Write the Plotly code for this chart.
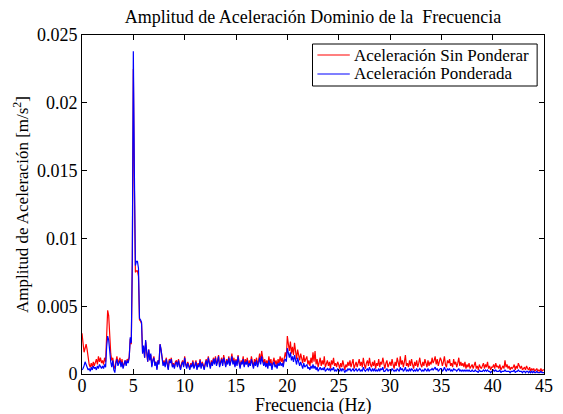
import numpy as np
import plotly.graph_objects as go

# Spectrum sampled every 0.1 Hz from 0 to 45 Hz; amplitudes in units of 1e-3 m/s^2.
# Each row holds one hertz (x.0 ... x.9).
freq_step_hz = 0.1

amp_sin_ponderar = [
    3.0, 2.4, 1.6, 1.9, 2.2, 1.8, 1.2, 0.7, 0.5, 0.8,
    0.5, 0.9, 0.6, 0.8, 1.1, 0.7, 1.3, 0.9, 1.2, 0.8,
    1.0, 0.7, 1.2, 0.9, 3.0, 4.7, 4.3, 2.6, 1.5, 1.0,
    1.2, 0.6, 0.4, 0.9, 1.3, 0.8, 1.0, 1.2, 0.7, 1.1,
    0.5, 0.8, 1.0, 0.7, 1.1, 0.9, 1.3, 2.6, 2.2, 8.0,
    22.5, 14.0, 7.5, 7.6, 7.6, 7.2, 4.0, 3.9, 3.7, 1.6,
    2.0, 1.2, 2.4, 1.6, 0.9, 1.8, 1.1, 1.4, 0.6, 1.0,
    1.3, 0.7, 0.9, 0.4, 1.0, 0.8, 2.2, 1.8, 1.2, 0.7,
    1.0, 0.6, 1.2, 0.8, 0.4, 1.1, 0.9, 1.2, 0.6, 0.8,
    0.5, 0.9, 1.0, 0.6, 1.1, 0.7, 0.4, 0.8, 1.0, 0.6,
    1.3, 0.8, 0.5, 0.9, 0.6, 0.4, 0.8, 0.6, 1.0, 0.5,
    0.7, 1.0, 0.4, 0.8, 0.6, 1.1, 0.5, 0.9, 0.7, 0.4,
    0.8, 1.1, 0.6, 1.3, 0.9, 0.5, 1.0, 0.7, 1.2, 0.8,
    1.3, 0.7, 1.0, 1.4, 0.6, 0.9, 1.2, 0.7, 1.4, 1.0,
    0.6, 1.1, 0.8, 1.3, 0.7, 1.0, 1.5, 0.8, 1.2, 0.6,
    1.1, 0.7, 1.4, 0.9, 0.5, 1.0, 0.8, 1.3, 0.6, 1.1,
    0.8, 1.2, 0.6, 1.0, 0.7, 1.3, 0.9, 0.5, 1.1, 0.8,
    1.2, 0.7, 1.0, 1.5, 0.9, 1.7, 1.2, 0.8, 1.1, 0.7,
    1.0, 0.6, 1.3, 0.8, 1.1, 0.5, 0.9, 1.2, 0.7, 1.0,
    0.6, 1.1, 0.8, 1.3, 0.9, 1.2, 0.7, 1.4, 1.6, 1.2,
    2.8, 2.2, 1.7, 2.4, 1.5, 2.0, 1.4, 2.3, 1.6, 1.1,
    1.8, 1.3, 1.0, 1.5, 1.2, 0.8, 1.4, 0.9, 1.1, 1.3,
    0.7, 1.0, 0.6, 1.2, 0.8, 1.6, 0.9, 1.7, 0.7, 1.1,
    0.5, 0.9, 1.2, 0.6, 1.0, 0.7, 1.3, 0.5, 0.8, 1.0,
    0.6, 0.9, 0.4, 1.0, 0.7, 1.2, 0.6, 0.8, 0.5, 0.9,
    0.7, 0.4, 0.8, 0.5, 1.0, 0.6, 0.3, 0.7, 0.5, 0.9,
    0.6, 1.0, 0.5, 0.8, 1.1, 0.4, 0.7, 0.9, 0.5, 0.8,
    1.1, 0.6, 0.9, 0.5, 1.2, 0.7, 0.4, 0.8, 1.0, 0.6,
    1.2, 0.7, 0.5, 0.9, 0.6, 1.0, 0.4, 0.8, 0.6, 1.1,
    0.5, 0.9, 0.7, 1.2, 0.6, 0.4, 0.8, 1.0, 0.5, 0.7,
    0.9, 0.6, 1.1, 0.7, 0.4, 0.9, 0.6, 1.2, 0.8, 0.5,
    1.3, 0.7, 1.0, 0.5, 0.9, 1.4, 0.6, 0.8, 0.5, 1.0,
    0.6, 1.1, 0.7, 0.4, 0.9, 0.6, 1.0, 0.5, 0.8, 1.2,
    0.7, 0.5, 0.9, 0.6, 1.1, 0.8, 0.5, 1.0, 0.6, 0.9,
    0.7, 1.2, 0.8, 1.0, 1.3, 0.7, 1.1, 0.6, 0.9, 1.2,
    1.0, 0.6, 0.9, 1.3, 0.7, 0.5, 1.0, 0.8, 1.1, 0.6,
    0.8, 0.5, 1.1, 0.7, 0.9, 0.5, 0.8, 1.2, 0.6, 0.9,
    0.6, 0.8, 0.5, 0.9, 0.4, 0.7, 0.5, 0.8, 0.4, 0.6,
    0.7, 0.4, 0.6, 0.9, 0.4, 0.6, 0.3, 0.7, 0.5, 0.4,
    0.6, 0.8, 0.4, 0.7, 0.5, 0.9, 0.4, 0.6, 0.3, 0.5,
    0.5, 0.7, 0.4, 0.8, 0.5, 0.6, 0.4, 0.7, 0.3, 0.5,
    0.6, 0.4, 1.0, 0.5, 0.7, 0.4, 0.6, 0.3, 0.5, 0.4,
    0.5, 0.7, 0.3, 0.6, 0.4, 0.8, 0.5, 0.4, 0.6, 0.3,
    0.4, 0.5, 0.3, 0.6, 0.4, 0.3, 0.5, 0.2, 0.4, 0.3,
    0.4, 0.2, 0.3, 0.4, 0.2, 0.3, 0.2, 0.4, 0.2, 0.3,
    0.3,
]

amp_ponderada = [
    0.3, 0.4, 0.6, 0.9, 0.7, 0.5, 0.3, 0.4, 0.2, 0.5,
    0.3, 0.6, 0.4, 0.5, 0.3, 0.6, 0.4, 0.7, 0.5, 0.4,
    0.6, 0.4, 0.7, 0.5, 2.0, 2.8, 2.5, 1.4, 0.9, 0.5,
    1.0, 0.3, 0.1, 0.8, 1.1, 0.6, 0.9, 1.0, 0.5, 0.9,
    0.4, 0.7, 1.0, 0.6, 1.0, 0.8, 1.2, 2.7, 2.3, 8.5,
    23.8, 15.0, 8.0, 8.3, 8.3, 7.8, 4.1, 4.0, 3.8, 1.5,
    2.1, 1.2, 2.5, 1.7, 0.9, 1.8, 1.0, 1.5, 0.5, 1.0,
    1.2, 0.6, 0.9, 0.3, 1.0, 0.7, 2.2, 1.8, 1.1, 0.6,
    0.9, 0.5, 1.1, 0.7, 0.3, 1.0, 0.8, 1.1, 0.5, 0.7,
    0.4, 0.8, 0.9, 0.5, 1.0, 0.6, 0.3, 0.7, 0.9, 0.5,
    1.2, 0.7, 0.4, 0.8, 0.5, 0.3, 0.7, 0.5, 0.9, 0.4,
    0.6, 0.9, 0.3, 0.7, 0.5, 1.0, 0.4, 0.8, 0.6, 0.3,
    0.7, 1.0, 0.5, 1.2, 0.8, 0.4, 0.9, 0.6, 1.1, 0.7,
    1.2, 0.6, 0.9, 1.3, 0.5, 0.8, 1.1, 0.6, 1.2, 0.9,
    0.5, 1.0, 0.7, 1.2, 0.6, 0.9, 1.3, 0.7, 1.0, 0.5,
    1.0, 0.6, 1.3, 0.8, 0.4, 0.9, 0.7, 1.1, 0.5, 0.9,
    0.7, 1.0, 0.5, 0.8, 0.6, 1.1, 0.7, 0.4, 0.9, 0.6,
    1.0, 0.5, 0.8, 1.2, 0.7, 1.3, 0.9, 0.6, 0.9, 0.5,
    0.8, 0.4, 1.0, 0.6, 0.8, 0.3, 0.7, 0.9, 0.5, 0.7,
    0.4, 0.8, 0.6, 0.9, 0.6, 0.8, 0.5, 1.0, 1.1, 0.9,
    1.9, 1.5, 1.2, 1.6, 1.0, 1.3, 0.9, 1.4, 1.0, 0.7,
    1.2, 0.8, 0.6, 0.9, 0.7, 0.4, 0.8, 0.5, 0.6, 0.7,
    0.4, 0.5, 0.3, 0.6, 0.4, 0.7, 0.4, 0.6, 0.3, 0.5,
    0.2, 0.4, 0.5, 0.3, 0.4, 0.3, 0.5, 0.2, 0.3, 0.4,
    0.3, 0.4, 0.2, 0.4, 0.3, 0.5, 0.2, 0.3, 0.2, 0.4,
    0.3, 0.2, 0.4, 0.2, 0.4, 0.3, 0.1, 0.3, 0.2, 0.4,
    0.3, 0.4, 0.2, 0.3, 0.4, 0.2, 0.3, 0.4, 0.2, 0.3,
    0.4, 0.2, 0.3, 0.2, 0.5, 0.3, 0.2, 0.3, 0.4, 0.2,
    0.5, 0.3, 0.2, 0.4, 0.2, 0.4, 0.2, 0.3, 0.2, 0.4,
    0.2, 0.4, 0.3, 0.5, 0.2, 0.2, 0.3, 0.4, 0.2, 0.3,
    0.3, 0.2, 0.4, 0.3, 0.2, 0.3, 0.2, 0.4, 0.3, 0.2,
    0.5, 0.3, 0.4, 0.2, 0.3, 0.5, 0.2, 0.3, 0.2, 0.4,
    0.2, 0.4, 0.3, 0.2, 0.3, 0.2, 0.4, 0.2, 0.3, 0.4,
    0.3, 0.2, 0.3, 0.2, 0.4, 0.3, 0.2, 0.4, 0.2, 0.3,
    0.3, 0.4, 0.3, 0.4, 0.5, 0.3, 0.4, 0.2, 0.3, 0.4,
    0.4, 0.2, 0.3, 0.5, 0.3, 0.2, 0.4, 0.3, 0.4, 0.2,
    0.3, 0.2, 0.4, 0.3, 0.3, 0.2, 0.3, 0.4, 0.2, 0.3,
    0.2, 0.3, 0.2, 0.3, 0.2, 0.3, 0.2, 0.3, 0.2, 0.2,
    0.3, 0.2, 0.2, 0.3, 0.2, 0.2, 0.1, 0.3, 0.2, 0.2,
    0.2, 0.3, 0.2, 0.3, 0.2, 0.3, 0.2, 0.2, 0.1, 0.2,
    0.2, 0.3, 0.2, 0.3, 0.2, 0.2, 0.2, 0.3, 0.1, 0.2,
    0.2, 0.2, 0.3, 0.2, 0.2, 0.2, 0.2, 0.1, 0.2, 0.2,
    0.2, 0.3, 0.1, 0.2, 0.2, 0.3, 0.2, 0.2, 0.2, 0.1,
    0.2, 0.2, 0.1, 0.2, 0.2, 0.1, 0.2, 0.1, 0.2, 0.1,
    0.2, 0.1, 0.1, 0.2, 0.1, 0.1, 0.1, 0.2, 0.1, 0.1,
    0.1,
]

series_names = ["Aceleración Sin Ponderar", "Aceleración Ponderada"]
series_colors = ["#ff0000", "#0000ff"]

x_tick_vals = [0, 5, 10, 15, 20, 25, 30, 35, 40, 45]
y_tick_vals = [0, 0.005, 0.01, 0.015, 0.02, 0.025]
y_tick_text = ["0", "0.005", "0.01", "0.015", "0.02", "0.025"]

freq = np.arange(len(amp_sin_ponderar)) * freq_step_hz
series_values = [np.array(amp_sin_ponderar) * 1e-3, np.array(amp_ponderada) * 1e-3]

FONT = "Liberation Serif"
W, H = 563, 414
M_L, M_R, M_T, M_B = 82, 10, 35, 40
PLOT_W = W - M_L - M_R
PLOT_H = H - M_T - M_B


def px_to_paper_x(px):
    return (px - M_L) / PLOT_W


def px_to_paper_y(py):
    return (H - M_B - py) / PLOT_H


fig = go.Figure()
for name, color, values in zip(series_names, series_colors, series_values):
    fig.add_trace(go.Scatter(
        x=freq, y=values, mode="lines", name=name,
        line=dict(color=color, width=1.2), showlegend=False,
    ))

# Boxed legend in the upper-right corner of the axes
shapes = [dict(
    type="rect", xref="paper", yref="paper",
    x0=px_to_paper_x(317), x1=px_to_paper_x(546),
    y0=px_to_paper_y(86), y1=px_to_paper_y(44),
    line=dict(color="black", width=1), fillcolor="white", layer="above",
)]
annotations = []
for i, (name, color) in enumerate(zip(series_names, series_colors)):
    row_y = px_to_paper_y(55 + 19 * i)
    shapes.append(dict(
        type="line", xref="paper", yref="paper",
        x0=px_to_paper_x(322), x1=px_to_paper_x(355), y0=row_y, y1=row_y,
        line=dict(color=color, width=1.2), layer="above",
    ))
    annotations.append(dict(
        text=name, xref="paper", yref="paper", x=px_to_paper_x(357), y=row_y,
        xanchor="left", yanchor="middle", showarrow=False,
        font=dict(family=FONT, size=17, color="black"),
    ))

annotations.append(dict(
    text="Frecuencia (Hz)", xref="paper", yref="paper",
    x=0.5, y=px_to_paper_y(405), xanchor="center", yanchor="middle",
    showarrow=False, font=dict(family=FONT, size=18, color="black"),
))

fig.update_layout(
    width=W, height=H,
    margin=dict(l=M_L, r=M_R, t=M_T, b=M_B),
    paper_bgcolor="white", plot_bgcolor="white",
    font=dict(family=FONT, size=17, color="black"),
    title=dict(
        text="Amplitud de Aceleración Dominio de la\u00a0 Frecuencia",
        font=dict(family=FONT, size=18, color="black"),
        x=313 / W, xanchor="center",
        y=1 - 17 / H, yanchor="middle",
    ),
    xaxis=dict(
        range=[0, 45], tickvals=x_tick_vals,
        showline=True, linecolor="black", linewidth=1, mirror="ticks",
        ticks="inside", ticklen=5, tickcolor="black", showgrid=False, zeroline=False,
        tickfont=dict(family=FONT, size=18, color="black"),
        ticklabelstandoff=-5,
    ),
    yaxis=dict(
        range=[0, 0.025], tickvals=y_tick_vals, ticktext=y_tick_text,
        showline=True, linecolor="black", linewidth=1, mirror="ticks",
        ticks="inside", ticklen=5, tickcolor="black", showgrid=False, zeroline=False,
        tickfont=dict(family=FONT, size=18, color="black"),
        title=dict(text="Amplitud de Aceleración [m/s<sup>2</sup>]",
                   font=dict(family=FONT, size=17, color="black"), standoff=3),
    ),
    shapes=shapes,
    annotations=annotations,
    showlegend=False,
)

fig.write_html("out.html")
